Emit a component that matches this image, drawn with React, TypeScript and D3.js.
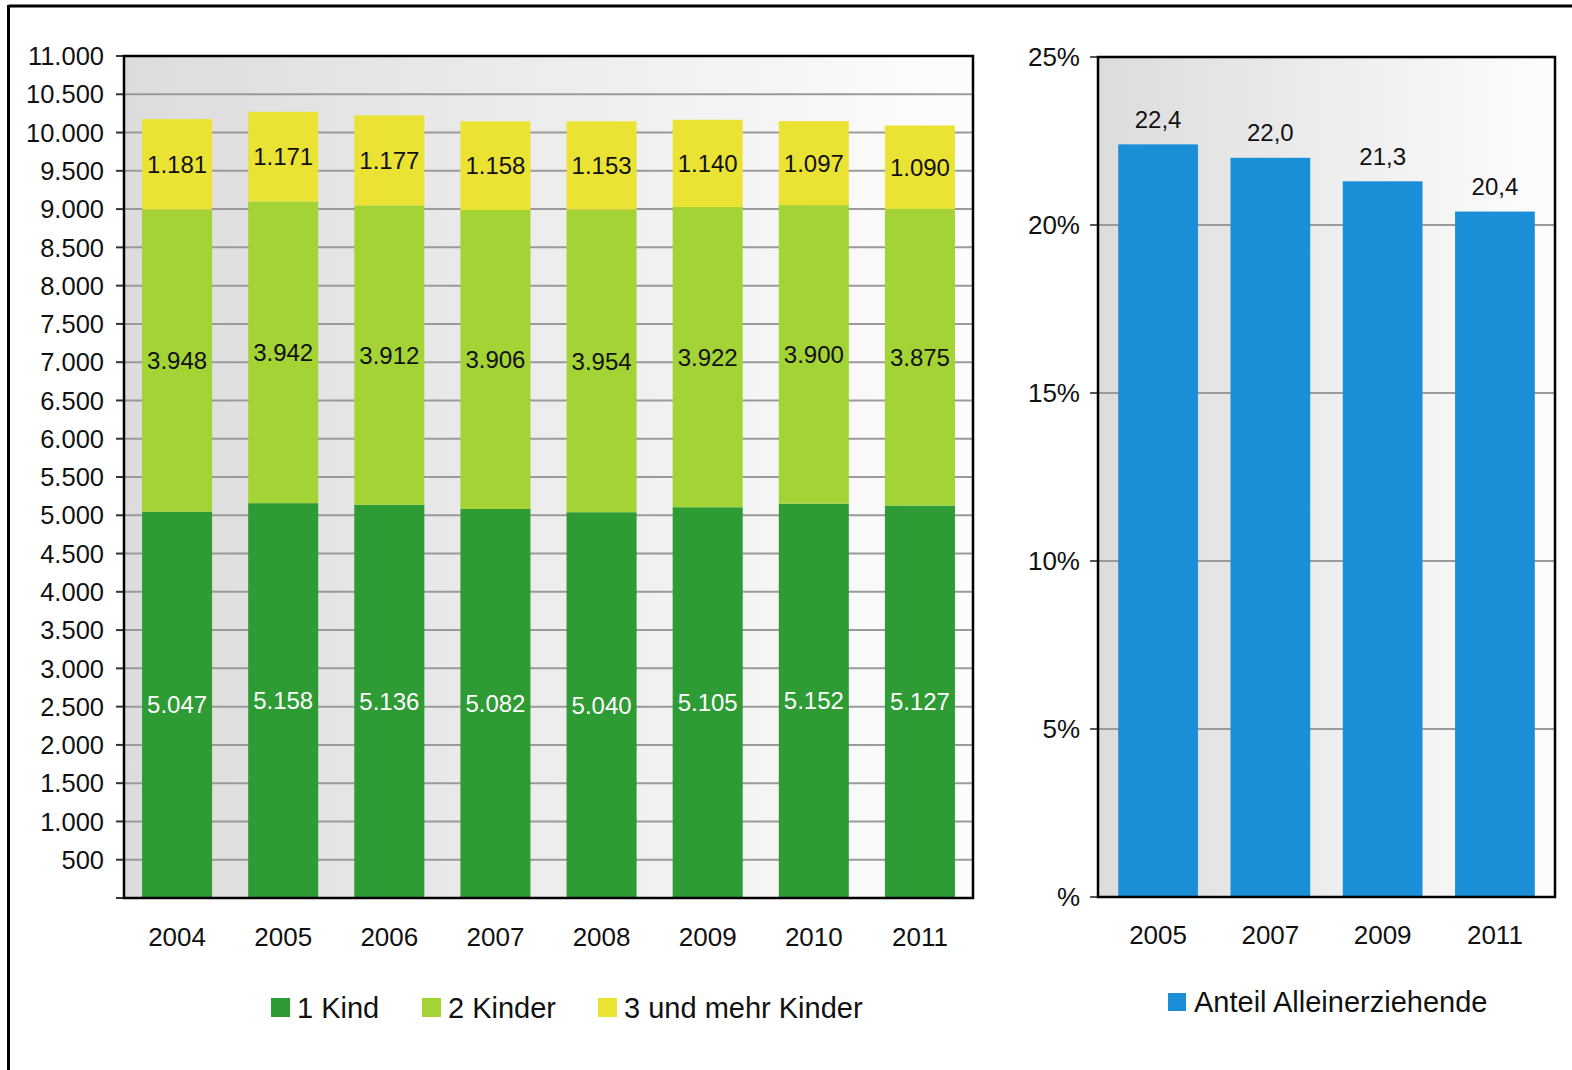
import * as d3 from 'd3';
import React from 'react';

// data
const years = ['2004', '2005', '2006', '2007', '2008', '2009', '2010', '2011'];
const einKind = [5047, 5158, 5136, 5082, 5040, 5105, 5152, 5127];
const zweiKinder = [3948, 3942, 3912, 3906, 3954, 3922, 3900, 3875];
const dreiKinder = [1181, 1171, 1177, 1158, 1153, 1140, 1097, 1090];
const seriesNames = ['1 Kind', '2 Kinder', '3 und mehr Kinder'];
const seriesColors = ['#2e9b35', '#a4d336', '#ebe334'];
const labelColors = ['#ffffff', '#111111', '#111111'];

const shareYears = ['2005', '2007', '2009', '2011'];
const shareValues = [22.4, 22.0, 21.3, 20.4];
const shareName = 'Anteil Alleinerziehende';
const shareColor = '#1a8fd8';

const font = '"Liberation Sans", Arial, sans-serif';
const fmtDe = (v: number) => d3.format(',')(v).replace(/,/g, '.');

const App = () => {
  // left chart
  const L = { left: 124, right: 973, top: 56, bottom: 898 };
  const x = d3.scaleBand(years, [L.left, L.right]).paddingInner(0.34).paddingOuter(0.17);
  const y = d3.scaleLinear([0, 11000], [L.bottom, L.top]);
  const yTicks = d3.range(0, 11001, 500);

  const rows = years.map((yr, i) => ({ yr, a: einKind[i], b: zweiKinder[i], c: dreiKinder[i] }));
  const stack = d3.stack<any>().keys(['a', 'b', 'c'])(rows);

  // right chart
  const R = { left: 1098, right: 1555, top: 57, bottom: 897 };
  const x2 = d3.scaleBand(shareYears, [R.left, R.right]).paddingInner(0.29).paddingOuter(0.18);
  const y2 = d3.scaleLinear([0, 25], [R.bottom, R.top]);
  const y2Ticks = d3.range(0, 26, 5);

  const legendX = [271, 422, 598];

  return (
    <svg width={1572} height={1070} style={{ position: 'absolute', left: 0, top: 0 }} fontFamily={font}>
      <defs>
        <linearGradient id="bg" x1="0" x2="1" y1="0" y2="0">
          <stop offset="0%" stopColor="#dcdcdc" />
          <stop offset="100%" stopColor="#fdfdfd" />
        </linearGradient>
      </defs>
      <rect width={1572} height={1070} fill="#fff" />
      {/* outer frame: top and left edges */}
      <line x1={8.5} x2={1572} y1={6} y2={6} stroke="#000" strokeWidth={3} />
      <line x1={8.5} x2={8.5} y1={5} y2={1070} stroke="#000" strokeWidth={3} />

      {/* ---- left chart ---- */}
      <rect x={L.left} y={L.top} width={L.right - L.left} height={L.bottom - L.top} fill="url(#bg)" />
      {yTicks.map((t) => (
        <g key={t}>
          {t > 0 && t < 11000 && (
            <line x1={L.left} x2={L.right} y1={y(t)} y2={y(t)} stroke="#9a9a9a" strokeWidth={2} />
          )}
          <line x1={116} x2={L.left} y1={y(t)} y2={y(t)} stroke="#333" strokeWidth={2} />
          {t > 0 && (
            <text x={104} y={y(t)} dy="0.36em" textAnchor="end" fontSize={25.5} fill="#111">
              {fmtDe(t)}
            </text>
          )}
        </g>
      ))}
      {stack.map((s, si) => (
        <g key={si}>
          {s.map((d, i) => (
            <g key={i}>
              <rect
                x={x(years[i])}
                y={y(d[1])}
                width={x.bandwidth()}
                height={y(d[0]) - y(d[1])}
                fill={seriesColors[si]}
              />
              <text
                x={(x(years[i]) as number) + x.bandwidth() / 2}
                y={(y(d[0]) + y(d[1])) / 2}
                dy="0.36em"
                textAnchor="middle"
                fontSize={24}
                fill={labelColors[si]}
              >
                {fmtDe(d[1] - d[0])}
              </text>
            </g>
          ))}
        </g>
      ))}
      <rect
        x={L.left}
        y={L.top}
        width={L.right - L.left}
        height={L.bottom - L.top}
        fill="none"
        stroke="#000"
        strokeWidth={2.5}
      />
      {years.map((yr) => (
        <text
          key={yr}
          x={(x(yr) as number) + x.bandwidth() / 2}
          y={937}
          dy="0.36em"
          textAnchor="middle"
          fontSize={26}
          fill="#111"
        >
          {yr}
        </text>
      ))}
      {seriesNames.map((n, i) => (
        <g key={n}>
          <rect x={legendX[i]} y={998} width={19} height={19} fill={seriesColors[i]} />
          <text x={legendX[i] + 26} y={1008} dy="0.36em" fontSize={29} fill="#111">
            {n}
          </text>
        </g>
      ))}

      {/* ---- right chart ---- */}
      <rect x={R.left} y={R.top} width={R.right - R.left} height={R.bottom - R.top} fill="url(#bg)" />
      {y2Ticks.map((t) => (
        <g key={t}>
          {t > 0 && t < 25 && (
            <line x1={R.left} x2={R.right} y1={y2(t)} y2={y2(t)} stroke="#9a9a9a" strokeWidth={2} />
          )}
          <line x1={1090} x2={R.left} y1={y2(t)} y2={y2(t)} stroke="#555" strokeWidth={2} />
          <text x={1080} y={y2(t)} dy="0.36em" textAnchor="end" fontSize={26} fill="#111">
            {t === 0 ? '%' : `${t}%`}
          </text>
        </g>
      ))}
      {shareYears.map((yr, i) => (
        <g key={yr}>
          <rect
            x={x2(yr)}
            y={y2(shareValues[i])}
            width={x2.bandwidth()}
            height={y2(0) - y2(shareValues[i])}
            fill={shareColor}
          />
          <text
            x={(x2(yr) as number) + x2.bandwidth() / 2}
            y={y2(shareValues[i]) - 25}
            dy="0.36em"
            textAnchor="middle"
            fontSize={24}
            fill="#111"
          >
            {d3.format('.1f')(shareValues[i]).replace('.', ',')}
          </text>
          <text
            x={(x2(yr) as number) + x2.bandwidth() / 2}
            y={935}
            dy="0.36em"
            textAnchor="middle"
            fontSize={26}
            fill="#111"
          >
            {yr}
          </text>
        </g>
      ))}
      <rect
        x={R.left}
        y={R.top}
        width={R.right - R.left}
        height={R.bottom - R.top}
        fill="none"
        stroke="#000"
        strokeWidth={2.5}
      />
      <rect x={1168} y={993} width={18} height={18} fill={shareColor} />
      <text x={1194} y={1002} dy="0.36em" fontSize={29} fill="#111">
        {shareName}
      </text>
    </svg>
  );
};

export default App;
